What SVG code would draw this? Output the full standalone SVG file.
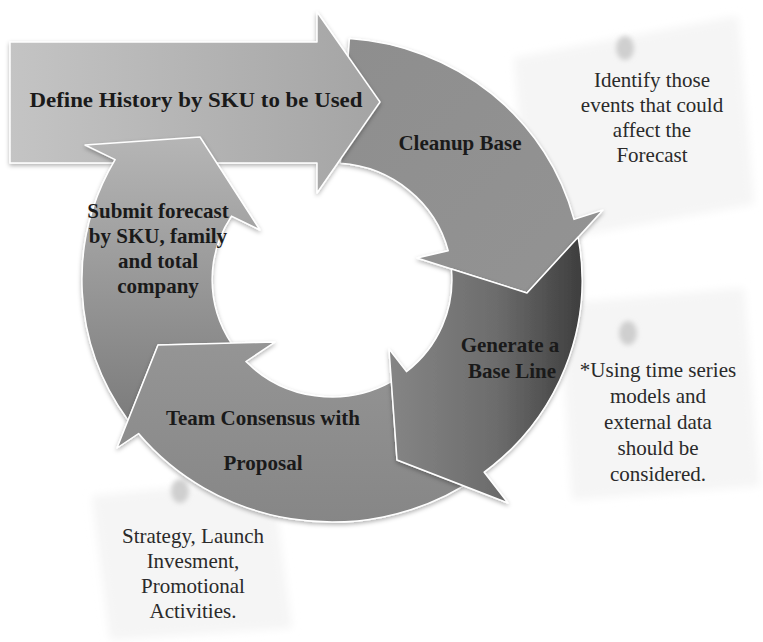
<svg xmlns="http://www.w3.org/2000/svg" width="763" height="642" viewBox="0 0 763 642">
<defs>
<linearGradient id="gDefine" gradientUnits="userSpaceOnUse" x1="10" y1="0" x2="380" y2="0">
<stop offset="0" stop-color="#c4c4c4"/><stop offset="1" stop-color="#a4a4a4"/>
</linearGradient>
<linearGradient id="gCleanup" gradientUnits="userSpaceOnUse" x1="340" y1="40" x2="600" y2="290">
<stop offset="0" stop-color="#8e8e8e"/><stop offset="1" stop-color="#939393"/>
</linearGradient>
<linearGradient id="gGenerate" gradientUnits="userSpaceOnUse" x1="390" y1="0" x2="585" y2="0">
<stop offset="0" stop-color="#858585"/><stop offset="0.55" stop-color="#6c6c6c"/><stop offset="1" stop-color="#3c3c3c"/>
</linearGradient>
<linearGradient id="gTeam" gradientUnits="userSpaceOnUse" x1="0" y1="340" x2="0" y2="525">
<stop offset="0" stop-color="#959595"/><stop offset="1" stop-color="#868686"/>
</linearGradient>
<linearGradient id="gSubmit" gradientUnits="userSpaceOnUse" x1="0" y1="135" x2="0" y2="420">
<stop offset="0" stop-color="#b6b6b6"/><stop offset="0.6" stop-color="#939393"/><stop offset="1" stop-color="#7c7c7c"/>
</linearGradient>
<filter id="shadow" x="-10%" y="-10%" width="120%" height="125%">
<feDropShadow dx="0" dy="2" stdDeviation="2" flood-color="#000" flood-opacity="0.3"/>
</filter>
<filter id="soft" x="-10%" y="-10%" width="120%" height="120%">
<feGaussianBlur stdDeviation="4"/>
</filter>
<filter id="pinblur" x="-50%" y="-50%" width="200%" height="200%">
<feGaussianBlur stdDeviation="2.5"/>
</filter>
<style>
.arrow{stroke:#ffffff;stroke-width:1.5;stroke-linejoin:round;filter:url(#shadow)}
.lbl{font-family:"Liberation Serif","Times New Roman",serif;font-size:21px;font-weight:bold;fill:#1a1a1a;text-anchor:middle}
.note{font-family:"Liberation Serif","Times New Roman",serif;font-size:21px;fill:#2a2a2a;text-anchor:middle}
.paper{fill:#f5f5f5;filter:url(#soft)}
.pin{fill:#cfcfcf;filter:url(#pinblur)}
</style>
</defs>
<rect width="763" height="642" fill="#ffffff"/>

<g id="note-events">
<polygon class="paper" points="514,58 738,16 754,204 530,244"/>
<ellipse class="pin" cx="625" cy="48" rx="9" ry="12"/>
<text class="note" x="652" y="87">Identify those</text>
<text class="note" x="652" y="112">events that could</text>
<text class="note" x="652" y="137">affect the</text>
<text class="note" x="652" y="162">Forecast</text>
</g>

<g id="note-models">
<polygon class="paper" points="560,304 744,288 760,486 572,500"/>
<ellipse class="pin" cx="628" cy="333" rx="9" ry="12"/>
<text class="note" x="658" y="377">*Using time series</text>
<text class="note" x="658" y="403">models and</text>
<text class="note" x="658" y="429">external data</text>
<text class="note" x="658" y="455">should be</text>
<text class="note" x="658" y="481">considered.</text>
</g>

<g id="note-strategy">
<polygon class="paper" points="92,496 272,478 292,628 110,640"/>
<ellipse class="pin" cx="180" cy="491" rx="9" ry="12"/>
<text class="note" x="193" y="543">Strategy, Launch</text>
<text class="note" x="193" y="568">Invesment,</text>
<text class="note" x="193" y="593">Promotional</text>
<text class="note" x="193" y="618">Activities.</text>
</g>

<g id="node-cleanup">
<path class="arrow" fill="url(#gCleanup)" d="M349.4,38.6 A250,242 0 0 1 574.0,219.4 L603,210 L527,293 L417,258 L448.2,250.7 A120,117 0 0 0 340.4,163.3 Z"/>
<text class="lbl" x="460" y="150">Cleanup Base</text>
</g>

<g id="node-define">
<path class="arrow" fill="url(#gDefine)" d="M10,42 H317 V12 L380,102 L317,193 V163 H10 Z"/>
<text class="lbl" x="196" y="107" font-size="22" textLength="333" lengthAdjust="spacingAndGlyphs">Define History by SKU to be Used</text>
</g>

<g id="node-submit">
<path class="arrow" fill="url(#gSubmit)" d="M128.1,420.2 A250,242 0 0 1 115.1,159.6 L85,145 L200,137 L260,230 L231.5,216.1 A120,117 0 0 0 231.5,343.6 L158,345 Z"/>
<text class="lbl" x="158" y="218">Submit forecast</text>
<text class="lbl" x="158" y="243">by SKU, family</text>
<text class="lbl" x="158" y="268">and total</text>
<text class="lbl" x="158" y="293">company</text>
</g>

<g id="node-team">
<path class="arrow" fill="url(#gTeam)" d="M463.6,485.8 A250,242 0 0 1 138.6,433.5 L117,448 L158,345 L275,342 L245.9,361.5 A120,117 0 0 0 391.4,381.7 L397,460 Z"/>
<text class="lbl" x="263" y="425">Team Consensus with</text>
<text class="lbl" x="263" y="470">Proposal</text>
</g>

<g id="node-generate">
<path class="arrow" fill="url(#gGenerate)" d="M578.1,237.2 A250,242 0 0 1 484.2,472.2 L508,503 L397,460 L389,349 L406.5,371.6 A120,117 0 0 0 451.4,269.0 L527,293 Z"/>
<text class="lbl" x="510" y="352">Generate a</text>
<text class="lbl" x="512" y="378">Base Line</text>
</g>

<g id="connectors"></g>
</svg>
